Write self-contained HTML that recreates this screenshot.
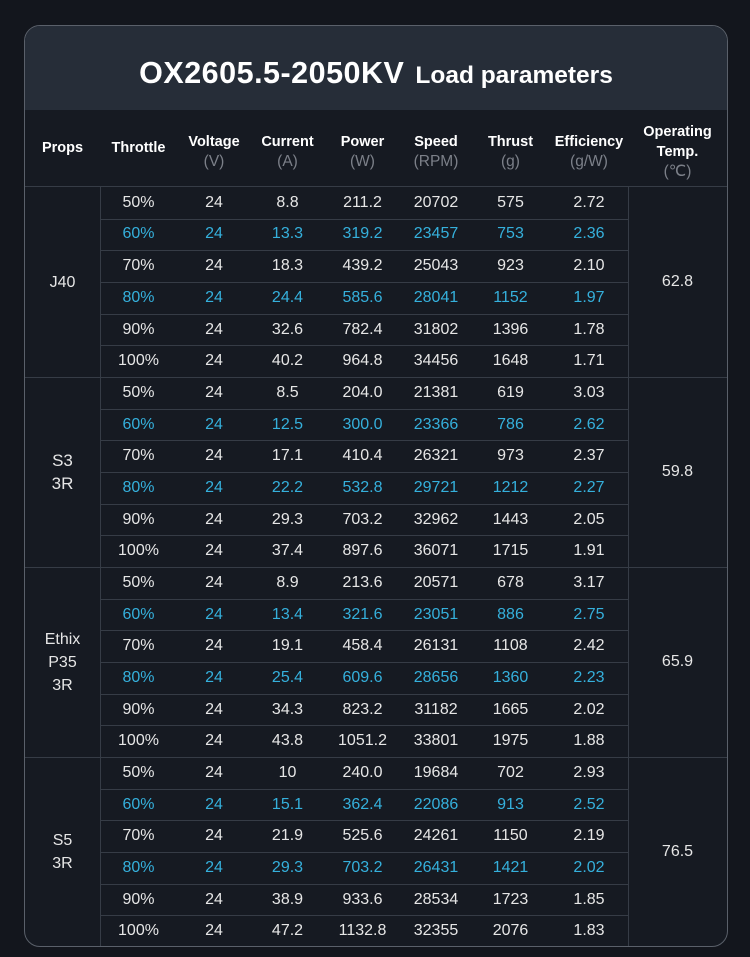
<!DOCTYPE html><html><head><meta charset="utf-8"><style>
body{margin:0;width:750px;height:957px;background:#13161d;font-family:"Liberation Sans",sans-serif;overflow:hidden}
#card{position:absolute;left:24px;top:25px;width:702px;height:920px;border:1px solid #5a606a;border-radius:16px;background:#161a22;overflow:hidden}
#title{position:absolute;left:0;top:0;width:702px;height:84px;background:#262d38;color:#fff;font-weight:bold;text-align:center;line-height:94px}
#title .a{font-size:30.5px;letter-spacing:0.5px}#title .b{font-size:24.5px;margin-left:11px}
.c{position:absolute;display:flex;align-items:center;justify-content:center;text-align:center;color:#e6e6e6;font-size:16px;box-sizing:border-box}
.h{color:#fff;font-weight:bold;font-size:14.5px;flex-direction:column;line-height:20px}
.h span{color:#7c8089;font-weight:normal;font-size:15.5px}
.ln{position:absolute;background:#363c46}
.cy{color:#35b0dc}
</style></head><body><div id="card"><div id="title"><span class="a">OX2605.5-2050KV</span><span class="b">Load parameters</span></div></div>
<script>
const card=document.getElementById('card');
const X=[0,75,152,226,299,376,446,525,603,702];
const heads=['Props','Throttle','Voltage<span>(V)</span>','Current<span>(A)</span>','Power<span>(W)</span>','Speed<span>(RPM)</span>','Thrust<span>(g)</span>','Efficiency<span>(g/W)</span>','Operating<br>Temp.<span>(℃)</span>'];
function add(cls,x,y,w,h,html){const d=document.createElement('div');d.className=cls;Object.assign(d.style,{left:x+'px',top:y+'px',width:w+'px',height:h+'px'});if(html!==undefined)d.innerHTML=html;card.appendChild(d);return d;}
heads.forEach((t,i)=>{add('c h',X[i],i==0||i==1?86:90,X[i+1]-X[i],72,t);});
add('ln',0,160,702,1);
const groups=[['J40','62.8',[[8.8,'211.2',20702,575,'2.72'],[13.3,'319.2',23457,753,'2.36'],[18.3,'439.2',25043,923,'2.10'],[24.4,'585.6',28041,1152,'1.97'],[32.6,'782.4',31802,1396,'1.78'],[40.2,'964.8',34456,1648,'1.71']]],
['S3<br>3R','59.8',[[8.5,'204.0',21381,619,'3.03'],[12.5,'300.0',23366,786,'2.62'],[17.1,'410.4',26321,973,'2.37'],[22.2,'532.8',29721,1212,'2.27'],[29.3,'703.2',32962,1443,'2.05'],[37.4,'897.6',36071,1715,'1.91']]],
['Ethix<br>P35<br>3R','65.9',[[8.9,'213.6',20571,678,'3.17'],[13.4,'321.6',23051,886,'2.75'],[19.1,'458.4',26131,1108,'2.42'],[25.4,'609.6',28656,1360,'2.23'],[34.3,'823.2',31182,1665,'2.02'],[43.8,'1051.2',33801,1975,'1.88']]],
['S5<br>3R','76.5',[[10,'240.0',19684,702,'2.93'],[15.1,'362.4',22086,913,'2.52'],[21.9,'525.6',24261,1150,'2.19'],[29.3,'703.2',26431,1421,'2.02'],[38.9,'933.6',28534,1723,'1.85'],[47.2,'1132.8',32355,2076,'1.83']]]];
const RH=31.67,Y0=161;
groups.forEach((g,gi)=>{const gy=Y0+gi*6*RH;
 add('c',0,gy,75,6*RH,g[0]).style.lineHeight='23px';if(gi==1)card.lastChild.style.fontSize='17px';
 add('c',603,gy,99,6*RH,g[1]);
 g[2].forEach((r,ri)=>{const y=gy+ri*RH;const vals=[(50+ri*10)+'%','24',r[0],r[1],r[2],r[3],r[4]];
  vals.forEach((v,i)=>{const d=add('c',X[i+1],y,X[i+2]-X[i+1],RH,v);if(ri==1||ri==3)d.classList.add('cy');});
  if(ri>0)add('ln',75,y,528,1);});
 if(gi>0)add('ln',0,gy,702,1);
});
add('ln',75,161,1,760);add('ln',603,161,1,760);
</script></body></html>
